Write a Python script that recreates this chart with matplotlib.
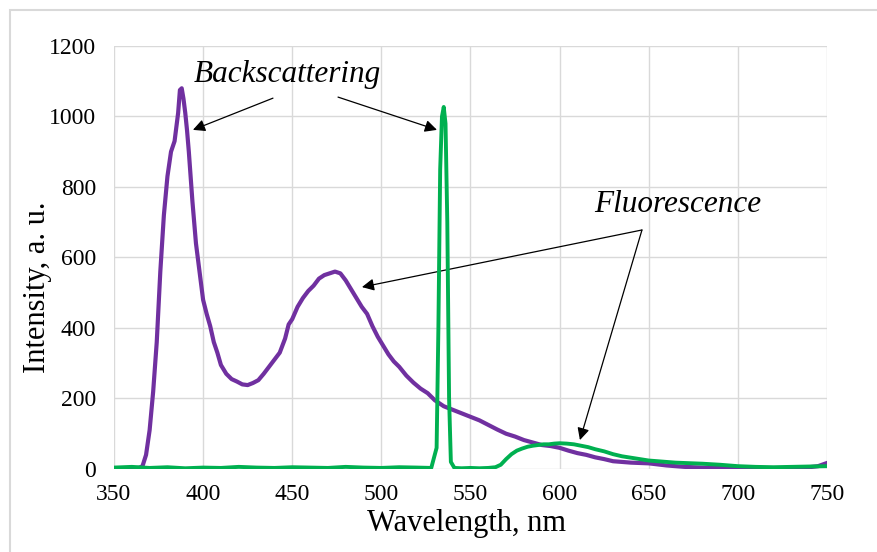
import matplotlib
matplotlib.use("Agg")
import matplotlib.pyplot as plt
from matplotlib.patches import Rectangle

plt.rcParams["font.family"] = ["Liberation Serif", "DejaVu Serif"]

# Backscattering + fluorescence spectrum (purple trace)
purple_nm = [350, 355, 360, 364, 366, 368, 370, 372, 374, 376, 378, 380, 382, 384,
             386, 387, 388, 389, 390, 391, 392, 394, 396, 398, 400, 402, 404, 406,
             408, 410, 413, 416, 419, 422, 425, 428, 431, 434, 437, 440, 443, 446,
             448, 450, 453, 456, 459, 462, 465, 468, 471, 474, 477, 480, 483, 486,
             489, 492, 495, 498, 501, 504, 507, 510, 514, 518, 522, 526, 530, 535,
             540, 545, 550, 555, 560, 565, 570, 575, 580, 585, 590, 595, 600, 605,
             610, 615, 620, 625, 630, 635, 640, 645, 650, 660, 670, 680, 690, 700,
             710, 720, 730, 740, 745, 750]
purple_val = [2, 1, 2, 3, 8, 40, 110, 220, 360, 560, 720, 830, 900, 930,
              1010, 1075, 1080, 1050, 1010, 960, 900, 760, 640, 560, 480, 440, 405, 360,
              330, 295, 270, 255, 248, 240, 238, 244, 252, 270, 290, 310, 330, 370,
              410, 425, 460, 485, 505, 520, 540, 550, 555, 560, 555, 535, 510, 485,
              460, 440, 405, 375, 350, 325, 305, 290, 265, 245, 228, 215, 195, 178,
              168, 158, 148, 138, 125, 112, 100, 92, 82, 75, 68, 65, 60, 52,
              45, 40, 33, 28, 22, 20, 18, 17, 16, 10, 6, 4, 3, 3,
              2, 2, 3, 5, 8, 17]

# Laser line at 535 nm + red fluorescence band (green trace)
green_nm = [350, 360, 370, 380, 390, 400, 410, 420, 430, 440, 450, 460, 470, 480,
            490, 500, 510, 520, 528, 531, 532, 533, 534, 535, 536, 537, 538, 539,
            541, 545, 550, 555, 560, 564, 567, 570, 573, 576, 579, 582, 585, 588,
            591, 594, 597, 600, 604, 608, 612, 616, 620, 625, 630, 635, 640, 645,
            650, 655, 660, 665, 670, 680, 690, 700, 710, 720, 730, 740, 750]
green_val = [4, 6, 3, 5, 2, 4, 3, 6, 4, 3, 5, 4, 3, 6,
             4, 3, 5, 4, 3, 60, 400, 850, 1000, 1027, 980, 700, 200, 20,
             3, 2, 3, 2, 3, 5, 12, 28, 42, 52, 58, 63, 66, 68,
             70, 70, 72, 73, 72, 70, 66, 62, 56, 50, 42, 36, 32, 28,
             24, 22, 20, 18, 17, 15, 12, 8, 6, 5, 6, 7, 8]

x_ticks = [350, 400, 450, 500, 550, 600, 650, 700, 750]
y_ticks = [0, 200, 400, 600, 800, 1000, 1200]

fig = plt.figure(figsize=(8.78, 5.52), dpi=100)
ax = fig.add_axes([0.1298, 0.1504, 0.8121, 0.7663])

ax.plot(purple_nm, purple_val, color="#7030A0", lw=3, zorder=3)
ax.plot(green_nm, green_val, color="#00B050", lw=2.8, zorder=4)

ax.set_xlim(350, 750)
ax.set_ylim(0, 1200)
ax.set_xticks(x_ticks)
ax.set_yticks(y_ticks)
ax.grid(True, color="#d9d9d9", lw=1)
ax.set_axisbelow(True)
for s in ax.spines.values():
    s.set_visible(False)
ax.tick_params(length=0, labelsize=17)
ax.tick_params(axis="x", pad=11)
ax.tick_params(axis="y", pad=13)
ax.set_xlabel("Wavelength, nm", fontsize=22)
ax.set_ylabel("Intensity, a. u.", fontsize=22)
ax.xaxis.set_label_coords(0.495, -0.094)
ax.yaxis.set_label_coords(-0.087, 0.43)

arrow = dict(arrowstyle="-|>", color="black", lw=0.9, mutation_scale=18,
             shrinkA=0, shrinkB=0)
ax.text(447, 1118, "Backscattering", fontsize=22.5, style="italic",
        ha="center", va="center", zorder=5)
ax.annotate("", xy=(394.3, 962), xytext=(439.2, 1052), arrowprops=arrow)
ax.annotate("", xy=(531.2, 962), xytext=(475.7, 1055), arrowprops=arrow)

ax.text(666, 749, "Fluorescence", fontsize=22.5, style="italic",
        ha="center", va="center", zorder=5)
ax.annotate("", xy=(489.1, 516), xytext=(646.2, 678), arrowprops=arrow)
ax.annotate("", xy=(611.4, 82), xytext=(646.2, 678), arrowprops=arrow)

# light frame around the chart area
fig.patches.append(Rectangle((10 / 878, -0.1), 1.0, 1 - 10 / 552 + 0.1,
                             transform=fig.transFigure, fill=False,
                             edgecolor="#d9d9d9", lw=1.5))

fig.savefig("out.png", dpi=100)
